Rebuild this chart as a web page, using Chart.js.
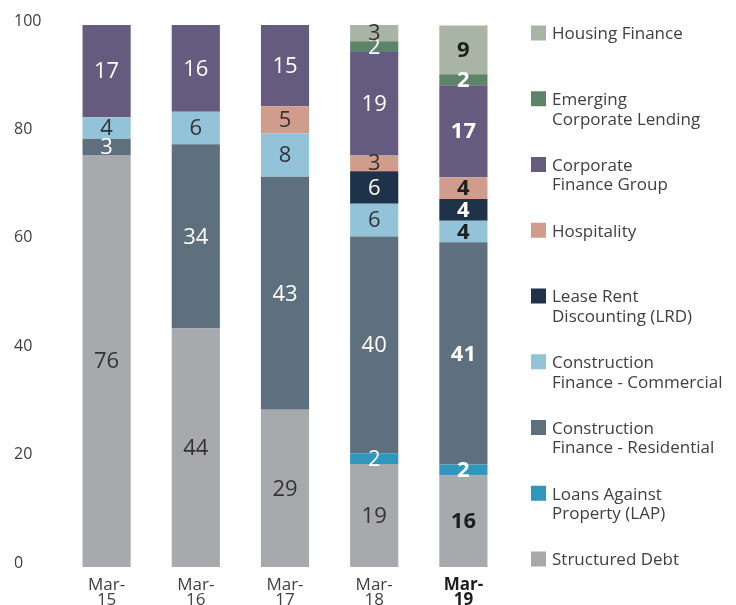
<!DOCTYPE html>
<html>
<head>
<meta charset="utf-8">
<script src="https://cdn.jsdelivr.net/npm/chart.js@4/dist/chart.umd.min.js"></script>
<style>
  html, body { margin: 0; padding: 0; background: #ffffff; }
  #wrap { width: 736px; height: 605px; position: relative; }
</style>
</head>
<body>
<div id="wrap"><canvas id="c" width="736" height="605"></canvas></div>
<script>
const categories = [['Mar-', '15'], ['Mar-', '16'], ['Mar-', '17'], ['Mar-', '18'], ['Mar-', '19']];
const yTicks = [0, 20, 40, 60, 80, 100];

const structuredDebt = [76, 44, 29, 19, 16.9];
const loansAgainstProperty = [0, 0, 0, 2, 2];
const constructionResidential = [3, 34, 43, 40, 41];
const constructionCommercial = [4, 6, 8, 6, 4];
const leaseRentDiscounting = [0, 0, 0, 6, 4];
const hospitality = [0, 0, 5, 3, 4];
const corporateFinanceGroup = [17, 16, 15, 19, 17];
const emergingCorporateLending = [0, 0, 0, 2, 2];
const housingFinance = [0, 0, 0, 3, 9];

const FONT = '"Open Sans", "Noto Sans", sans-serif';
const DARK = '#333333';
const WHITE = '#ffffff';

const series = [
  { lines: ['Structured Debt'], data: structuredDebt, color: '#a8a9ad', textColor: DARK },
  { lines: ['Loans Against', 'Property (LAP)'], data: loansAgainstProperty, color: '#2f97bb', textColor: WHITE },
  { lines: ['Construction', 'Finance - Residential'], data: constructionResidential, color: '#5e6f7e', textColor: WHITE },
  { lines: ['Construction', 'Finance - Commercial'], data: constructionCommercial, color: '#93c3d9', textColor: DARK },
  { lines: ['Lease Rent', 'Discounting (LRD)'], data: leaseRentDiscounting, color: '#1e334a', textColor: WHITE },
  { lines: ['Hospitality'], data: hospitality, color: '#d09d8c', textColor: DARK },
  { lines: ['Corporate', 'Finance Group'], data: corporateFinanceGroup, color: '#655b7f', textColor: WHITE },
  { lines: ['Emerging', 'Corporate Lending'], data: emergingCorporateLending, color: '#5e8468', textColor: WHITE },
  { lines: ['Housing Finance'], data: housingFinance, color: '#a9b5a4', textColor: DARK }
];

const labelPlugin = {
  id: 'segLabels',
  afterDatasetsDraw(chart) {
    const ctx = chart.ctx;
    ctx.save();
    ctx.textAlign = 'center';
    ctx.textBaseline = 'middle';
    chart.data.datasets.forEach((ds, di) => {
      const meta = chart.getDatasetMeta(di);
      const s = series[di];
      meta.data.forEach((el, i) => {
        const v = ds.data[i];
        if (!v) return;
        const p = el.getProps(['x', 'y', 'base'], true);
        const last = i === ds.data.length - 1;
        ctx.font = (last ? 'bold ' : '') + '22px ' + FONT;
        ctx.fillStyle = last && s.textColor === DARK ? '#1e1e1e' : s.textColor;
        ctx.fillText(String(Math.floor(v)), p.x, (p.y + p.base) / 2 + 1);
      });
    });
    ctx.restore();
  }
};

const legendPlugin = {
  id: 'sideLegend',
  afterDraw(chart) {
    const ctx = chart.ctx;
    const items = series.slice().reverse();
    const top = 33, step = 65.75;
    ctx.save();
    ctx.textAlign = 'left';
    ctx.textBaseline = 'middle';
    ctx.font = '17px ' + FONT;
    items.forEach((s, k) => {
      const cy = top + k * step;
      ctx.fillStyle = s.color;
      ctx.fillRect(531, cy - 7.5, 15, 15);
      ctx.fillStyle = '#404040';
      s.lines.forEach((line, j) => {
        ctx.fillText(line, 552, cy + 1.5 + j * 19.5);
      });
    });
    ctx.restore();
  }
};

new Chart(document.getElementById('c'), {
  type: 'bar',
  data: {
    labels: categories,
    datasets: series.map(s => ({
      label: s.lines.join(' '),
      data: s.data,
      backgroundColor: s.color,
      borderWidth: 0,
      barPercentage: 0.54,
      categoryPercentage: 1.0
    }))
  },
  options: {
    responsive: false,
    animation: false,
    devicePixelRatio: 1,
    layout: { padding: { left: 14, right: 228, top: 25, bottom: 0 } },
    plugins: { legend: { display: false }, tooltip: { enabled: false } },
    scales: {
      x: {
        stacked: true,
        grid: { display: false },
        border: { display: false },
        ticks: {
          color: (c) => c.index === 4 ? '#1e1e1e' : '#404040',
          font: (c) => ({ family: FONT, size: 17, weight: c.index === 4 ? 'bold' : 'normal', lineHeight: 0.88 }),
          padding: 3,
          maxRotation: 0,
          autoSkip: false
        },
        afterFit(scale) { scale.height = 38; }
      },
      y: {
        stacked: true,
        min: 0,
        max: 100,
        grid: { display: false },
        border: { display: false },
        afterBuildTicks(scale) { scale.ticks = yTicks.map(v => ({ value: v })); },
        ticks: {
          color: '#404040',
          font: { family: FONT, size: 16 },
          crossAlign: 'far',
          labelOffset: -4,
          padding: 0
        },
        afterFit(scale) { scale.width = 48; }
      }
    }
  },
  plugins: [labelPlugin, legendPlugin]
});
</script>
</body>
</html>
